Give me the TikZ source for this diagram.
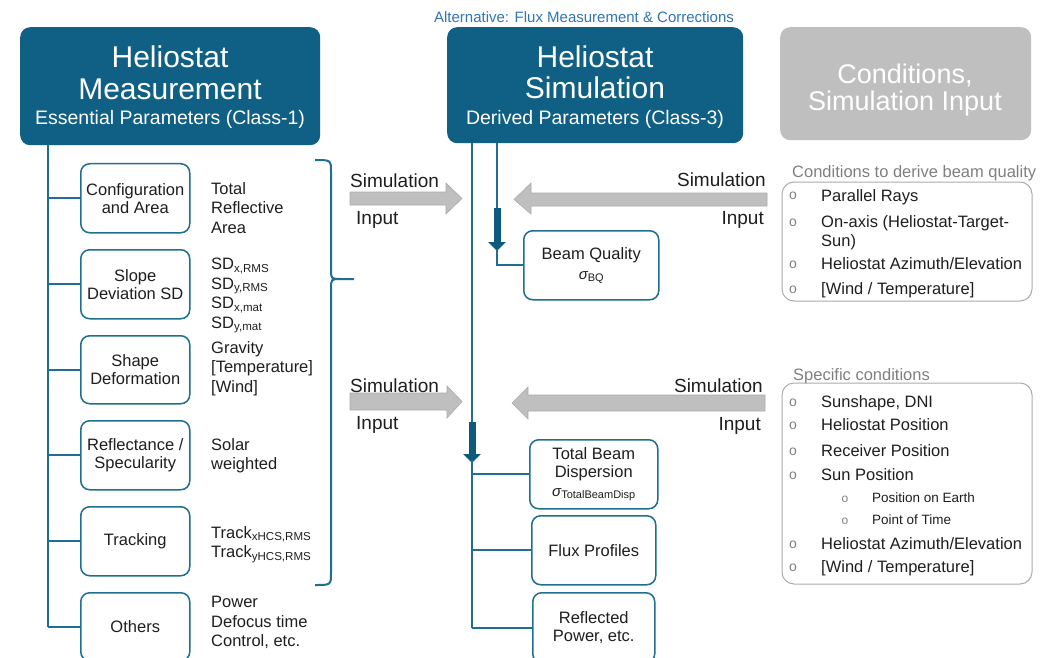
\documentclass[tikz,border=0pt]{standalone}
\usepackage{fontspec}
\setmainfont{Liberation Sans}
\usetikzlibrary{arrows.meta}
\newcommand\fsz[2]{\fontsize{#1}{#2}\selectfont}
\definecolor{hteal}{HTML}{0F6084}
\definecolor{hline}{HTML}{1F6F8F}
\definecolor{harrow}{HTML}{0D5A7C}
\definecolor{hgray}{HTML}{BFBFBF}
\definecolor{hgrayline}{HTML}{ABABAB}
\definecolor{hblue}{HTML}{2E75B6}
\definecolor{htext}{HTML}{1E1E1E}
\definecolor{hlabel}{HTML}{7F7F7F}
\begin{document}
\begin{tikzpicture}[x=1pt,y=-1pt,
  every node/.style={text=htext},
  titlebox/.style={fill=hteal, rounded corners=10pt, inner sep=0pt, anchor=north west},
  graybox/.style={fill=hgray, rounded corners=10pt, inner sep=0pt, anchor=north west},
  titletxt/.style={text=white, inner sep=0pt, anchor=base, font=\fsz{30}{32}},
  subtxt/.style={text=white, inner sep=0pt, anchor=base, font=\fsz{19.5}{22}},
  parbox/.style={draw=hline, line width=1.5pt, rounded corners=9pt, fill=white, anchor=north west, inner sep=0pt, align=center, font=\fsz{16.5}{18}},
  valtxt/.style={anchor=north west, inner sep=0pt, align=left, font=\fsz{16.5}{19.5}},
  tree/.style={draw=hline, line width=2pt},
  bigarrow/.style={draw=harrow, line width=7pt, -{Triangle[length=9pt,width=17pt]}},
  garrow/.style={fill=hgray, draw=hgrayline, line width=0.6pt},
  arrlbl/.style={inner sep=0pt, font=\fsz{19}{21}},
  listbox/.style={draw=hgrayline, line width=1pt, rounded corners=12pt},
  listitem/.style={anchor=base west, inner sep=0pt, font=\fsz{16.5}{19}},
  listsub/.style={anchor=base west, inner sep=0pt, font=\fsz{13.5}{16}},
  blt/.style={anchor=base, inner sep=0pt, text=hlabel, font=\fsz{14}{16}},
  listhead/.style={anchor=base west, inner sep=0pt, text=hlabel, font=\fsz{16.5}{19}},
]
\useasboundingbox (0,0) rectangle (1063,658);

% ---------- title boxes ----------
\node[titlebox, minimum width=300pt, minimum height=118pt] (meas) at (20,27) {};
\node[titletxt] (measA) at (170,68) {Heliostat};
\node[titletxt] (measB) at (170,100) {Measurement};
\node[subtxt] (measC) at (170,125) {Essential Parameters (Class-1)};

\node[anchor=base, inner sep=0pt, text=hblue, font=\fsz{15}{17}] (alt) at (584,23) {Alternative: Flux Measurement \& Corrections};
\node[titlebox, minimum width=296pt, minimum height=116pt] (sim) at (447,27) {};
\node[titletxt] (simA) at (595,68) {Heliostat};
\node[titletxt] (simB) at (595,99) {Simulation};
\node[subtxt] (simC) at (595,125) {Derived Parameters (Class-3)};

\node[graybox, minimum width=251pt, minimum height=113pt] (cond) at (780,27) {};
\node[anchor=base, inner sep=0pt, text=white, font=\fsz{27}{30}] (condA) at (905,84) {Conditions,};
\node[anchor=base, inner sep=0pt, text=white, font=\fsz{27}{30}] (condB) at (905,111) {Simulation Input};

% ---------- measured parameters ----------
\node[parbox, minimum width=109pt, minimum height=69pt] (cfg) at (80,163) {Configuration\\and Area};
\node[parbox, minimum width=109pt, minimum height=69pt] (slope) at (80,249) {Slope\\Deviation SD};
\node[parbox, minimum width=109pt, minimum height=68pt] (shape) at (80,335) {Shape\\Deformation};
\node[parbox, minimum width=109pt, minimum height=69pt] (refl) at (80,420) {Reflectance /\\Specularity};
\node[parbox, minimum width=109pt, minimum height=69pt] (track) at (80,506) {Tracking};
\node[parbox, minimum width=109pt, minimum height=68pt] (oth) at (80,592) {Others};

\node[valtxt] (vcfg) at (211,182) {Total\\Reflective\\Area};
\node[valtxt] (vslope) at (211,258) {SD\textsubscript{x,RMS}\\SD\textsubscript{y,RMS}\\SD\textsubscript{x,mat}\\SD\textsubscript{y,mat}};
\node[valtxt] (vshape) at (211,341) {Gravity\\{}[Temperature]\\{}[Wind]};
\node[valtxt] (vrefl) at (211,438) {Solar\\weighted};
\node[valtxt] (vtrack) at (211,526) {Track\textsubscript{xHCS,RMS}\\Track\textsubscript{yHCS,RMS}};
\node[valtxt] (voth) at (211,596) {Power\\Defocus time\\Control, etc.};

% tree of the measurement box
\coordinate (trunk) at (48,0);
\draw[tree] (meas.south -| trunk) -- (trunk |- oth.west);
\foreach \n in {cfg,slope,shape,refl,track,oth}
  \draw[tree] (trunk |- \n.west) -- (\n.west);

% brace grouping the simulation inputs
\draw[tree] (315,160) .. controls (331,160) .. (331,172) -- (331,269)
  .. controls (331,279) .. (341,279) -- (354,279);
\draw[tree] (341,279) .. controls (331,279) .. (331,289) -- (331,573)
  .. controls (331,585) .. (315,585);

% ---------- simulation results ----------
\node[parbox, minimum width=135pt, minimum height=69pt] (bq) at (523,230)
  {Beam Quality\\[2pt]{\fsz{15}{17}\itshape σ}{\fsz{11}{13}\raisebox{-2pt}{BQ}}};
\node[parbox, minimum width=128pt, minimum height=69pt] (tbd) at (529,439)
  {Total Beam\\Dispersion\\[1pt]{\fsz{15}{17}\itshape σ}{\fsz{11}{13}\raisebox{-2pt}{TotalBeamDisp}}};
\node[parbox, minimum width=124pt, minimum height=69pt] (flux) at (531,515) {Flux Profiles};
\node[parbox, minimum width=122pt, minimum height=70pt] (refp) at (532,592) {Reflected\\Power, etc.};

\coordinate (lineA) at (472,0);
\coordinate (lineB) at (497,0);
\coordinate (qa) at (497,208);
\coordinate (qb) at (497,251);
\coordinate (da) at (472,422);
\coordinate (db) at (472,463);

% beam quality branch
\draw[tree] (sim.south -| lineB) -- (qa);
\draw[bigarrow] (qa) -- (qb);
\draw[tree] (497,249) |- (bq.west);
% main simulation branch
\draw[tree] (sim.south -| lineA) -- (da);
\draw[bigarrow] (da) -- (db);
\draw[tree] (472,460) -- (lineA |- refp.west);
\foreach \n in {tbd,flux,refp}
  \draw[tree] (lineA |- \n.west) -- (\n.west);

% ---------- simulation input arrows ----------
\draw[garrow] (350,192) -- (446,192) -- (446,183) -- (462,198.5) -- (446,214) -- (446,205) -- (350,205) -- cycle;
\draw[garrow] (767,193) -- (531,193) -- (531,183) -- (514,199.5) -- (531,214) -- (531,206) -- (767,206) -- cycle;
\draw[garrow] (350,393) -- (447,393) -- (447,386) -- (462,401.5) -- (447,418) -- (447,410) -- (350,410) -- cycle;
\draw[garrow] (765,395) -- (528,395) -- (528,387) -- (512,403) -- (528,419) -- (528,411) -- (765,411) -- cycle;

\node[arrlbl, anchor=base west] (slA) at (350,187) {Simulation};
\node[arrlbl, anchor=base west] (ilA) at (356,224) {Input};
\node[arrlbl, anchor=base east] (srA) at (766,186) {Simulation};
\node[arrlbl, anchor=base east] (irA) at (764,224) {Input};
\node[arrlbl, anchor=base west] (slB) at (350,392) {Simulation};
\node[arrlbl, anchor=base west] (ilB) at (356,429) {Input};
\node[arrlbl, anchor=base east] (srB) at (763,392) {Simulation};
\node[arrlbl, anchor=base east] (irB) at (761,430) {Input};

% ---------- conditions lists ----------
\node[listhead] (hq) at (792,177) {Conditions to derive beam quality};
\draw[listbox] (782,182) rectangle (1032,301);
\node[blt] (b1) at (793,200) {o};
\node[listitem] (q1) at (821,201) {Parallel Rays};
\node[blt] (b2) at (793,226) {o};
\node[listitem] (q2) at (821,227) {On-axis (Heliostat-Target-};
\node[listitem] (q2b) at (821,246) {Sun)};
\node[blt] (b3) at (793,268) {o};
\node[listitem] (q3) at (821,269) {Heliostat Azimuth/Elevation};
\node[blt] (b4) at (793,293) {o};
\node[listitem] (q4) at (821,294) {[Wind / Temperature]};

\node[listhead] (hs) at (793,380) {Specific conditions};
\draw[listbox] (782,383) rectangle (1032,584);
\node[blt] (c1) at (793,406) {o};
\node[listitem] (s1) at (821,407) {Sunshape, DNI};
\node[blt] (c2) at (793,429) {o};
\node[listitem] (s2) at (821,430) {Heliostat Position};
\node[blt] (c3) at (793,455) {o};
\node[listitem] (s3) at (821,456) {Receiver Position};
\node[blt] (c4) at (793,479) {o};
\node[listitem] (s4) at (821,480) {Sun Position};
\node[blt, font=\fsz{12}{14}] (c5) at (845,502) {o};
\node[listsub] (s5) at (872,502) {Position on Earth};
\node[blt, font=\fsz{12}{14}] (c6) at (845,524) {o};
\node[listsub] (s6) at (872,524) {Point of Time};
\node[blt] (c7) at (793,548) {o};
\node[listitem] (s7) at (821,549) {Heliostat Azimuth/Elevation};
\node[blt] (c8) at (793,571) {o};
\node[listitem] (s8) at (821,572) {[Wind / Temperature]};
\end{tikzpicture}
\end{document}
